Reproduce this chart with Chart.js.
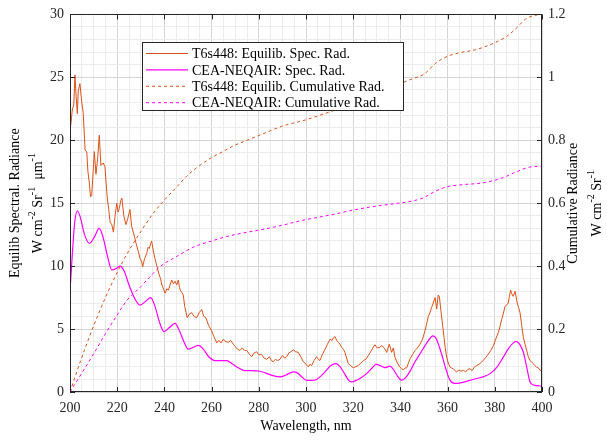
<!DOCTYPE html>
<html>
<head>
<meta charset="utf-8">
<script src="https://cdn.jsdelivr.net/npm/chart.js@4.4.1/dist/chart.umd.min.js"></script>
<style>
  body { margin: 0; background: #fff; }
  #wrap { width: 607px; height: 440px; }
</style>
</head>
<body>
<div id="wrap"><canvas id="radChart" width="607" height="440"></canvas></div>
<script>
  // T6s448 equilibrium spectral radiance (noisy)
  var t6Wave = [200, 200.5, 201, 201.6, 202.1, 202.6, 203.1, 203.5, 204.2, 205, 205.6, 206.4, 207.1, 207.6, 208.2, 208.7, 209.2, 209.8, 210.3, 211, 211.7, 212.4, 213.1, 214.1, 214.8, 215.3, 215.8, 216.4, 217, 217.7, 218.4, 219.1, 219.8, 220.4, 220.9, 221.5, 222, 222.8, 223.7, 224.5, 225.4, 226.1, 226.8, 227.4, 228, 228.9, 229.7, 230.3, 230.8, 231.6, 232.5, 233.1, 233.6, 234.2, 234.6, 235.3, 236, 236.8, 237.8, 238.4, 238.9, 239.6, 240.3, 241, 241.7, 242.4, 243.1, 243.8, 244.5, 245.2, 245.9, 246.4, 246.9, 247.5, 248, 248.6, 249.2, 249.7, 250.6, 251.6, 252.6, 253.7, 254.7, 255.8, 256.7, 257.6, 258.5, 259.3, 260, 261, 262.2, 263.1, 264, 265, 266, 267.1, 268.1, 269.2, 270.1, 271, 272, 273, 274, 274.9, 276, 277, 278, 279.1, 280, 281, 282.2, 283.3, 284.5, 285.3, 286.1, 287, 288, 289, 290, 290.9, 291.8, 292.7, 293.6, 294.6, 295.6, 296.7, 297.8, 298.9, 300, 301, 301.7, 302.4, 303.4, 304.5, 305.2, 305.9, 307, 308.1, 309.1, 310.2, 311, 311.6, 312.3, 313, 313.7, 314.4, 315.1, 315.8, 316.5, 317.2, 317.9, 318.9, 320, 321, 322.2, 323.2, 324.3, 325.4, 326.4, 327.4, 328.5, 329.2, 330.2, 331.4, 332.1, 332.8, 333.5, 334.2, 335.3, 336.3, 337, 337.7, 338.7, 339.8, 340.5, 341.2, 342, 342.7, 343.4, 344.1, 345.2, 346.2, 347.2, 348.3, 349.4, 350.4, 351.1, 351.8, 352.5, 353.2, 353.9, 354.7, 355.4, 356, 356.5, 357.2, 357.9, 358.5, 359, 359.6, 360.3, 361, 361.7, 362.4, 363.1, 363.8, 364.8, 365.7, 366.7, 367.7, 368.6, 369.5, 370.4, 371.4, 372.3, 373.3, 374.2, 375.1, 376.2, 377.2, 378.3, 379.4, 380.4, 381.5, 382.2, 382.9, 383.6, 384.3, 385, 385.7, 386.2, 386.7, 387.2, 387.8, 388.6, 389.5, 390.1, 390.7, 391.4, 392.1, 392.8, 393.5, 394.2, 394.9, 395.6, 396.3, 397, 397.7, 398.5, 399.2, 400];
  var t6Spec = [20.7, 21.5, 22.5, 22.8, 25.2, 23.5, 22.1, 23.9, 24.5, 23.0, 22.2, 19.2, 19.1, 17.5, 16.6, 15.5, 15.6, 17.5, 19.1, 17.3, 18.5, 20.4, 18.0, 18.2, 17.9, 16.6, 15.4, 14.5, 13.5, 13.3, 12.7, 14.0, 15.0, 14.3, 14.6, 15.2, 15.4, 14.0, 13.3, 13.8, 14.5, 13.2, 12.7, 12.3, 11.8, 11.2, 10.6, 10.4, 9.95, 10.6, 11.0, 11.5, 11.4, 11.8, 12.0, 11.2, 10.6, 10.0, 9.3, 9.0, 8.5, 8.2, 7.85, 8.2, 8.1, 8.5, 8.9, 8.6, 8.8, 8.5, 8.9, 8.3, 8.0, 7.9, 7.7, 6.8, 6.3, 5.9, 6.2, 6.3, 6.0, 5.9, 6.3, 6.55, 6.0, 5.9, 5.4, 5.1, 4.85, 4.4, 3.9, 4.1, 3.9, 4.2, 4.0, 3.95, 4.1, 3.8, 3.6, 3.4, 3.3, 3.5, 3.3, 3.3, 3.0, 2.8, 3.1, 3.2, 2.95, 3.0, 2.7, 2.6, 2.8, 2.5, 2.4, 2.6, 2.5, 2.6, 2.9, 2.7, 2.8, 3.1, 3.2, 3.35, 3.2, 3.15, 2.8, 2.4, 2.2, 2.0, 2.2, 2.1, 2.5, 2.8, 2.6, 2.5, 3.0, 3.4, 3.8, 4.2, 4.1, 4.3, 4.4, 4.1, 3.95, 3.8, 3.55, 3.4, 3.15, 2.7, 2.25, 2.1, 1.93, 2.0, 2.1, 2.3, 2.5, 2.6, 2.9, 3.2, 3.55, 3.75, 3.5, 3.55, 3.7, 3.55, 3.4, 3.15, 3.8, 3.15, 3.5, 2.77, 2.3, 1.98, 1.85, 1.77, 1.9, 1.93, 2.3, 2.64, 3.0, 3.3, 3.5, 3.8, 4.2, 4.85, 5.4, 6.0, 6.3, 6.7, 7.07, 7.5, 6.6, 7.7, 7.6, 6.4, 5.3, 4.33, 3.5, 2.77, 2.3, 1.98, 1.9, 1.85, 1.7, 1.59, 1.75, 1.65, 1.72, 1.6, 1.8, 1.85, 1.7, 2.0, 2.1, 2.2, 2.35, 2.5, 2.75, 3.0, 3.3, 3.68, 4.2, 4.72, 5.2, 5.77, 6.2, 6.8, 6.9, 7.07, 7.6, 8.1, 7.8, 7.6, 8.0, 7.07, 6.7, 6.3, 5.3, 4.33, 3.8, 3.3, 2.8, 2.5, 2.4, 2.25, 2.1, 1.98, 1.9, 1.72, 1.8];

  // CEA-NEQAIR spectral radiance (smooth)
  var ceaWave = [200, 201, 202, 203.1, 204.5, 206, 208.2, 210.3, 212.4, 214, 216, 217.7, 219.5, 221.2, 223, 225, 227.5, 229.7, 232, 234.2, 236, 238, 239.8, 242, 244.5, 246.5, 248.5, 250.1, 252.3, 254.4, 256.5, 258.8, 261.4, 264, 266.4, 269, 271.5, 274, 277, 280.5, 283, 286, 289, 291.5, 294.6, 296.5, 298.5, 300.5, 302.5, 304.5, 306.5, 308.5, 310.5, 312.7, 314.5, 316.5, 318, 319.4, 321, 323, 325.7, 327.7, 329.7, 331.5, 333.5, 335.6, 337, 338.5, 340.5, 342.5, 344.5, 346.2, 348.5, 350.5, 352.5, 353.7, 355, 356.3, 357.5, 359, 361, 363.1, 366, 369, 372.3, 375, 378, 381, 383.6, 386, 389, 390.5, 392.1, 393.5, 394.9, 396.5, 398, 400];
  var ceaSpec = [8.0, 11.0, 13.5, 14.4, 13.8, 12.6, 11.8, 12.3, 13.0, 12.3, 10.7, 9.7, 9.8, 10.0, 9.6, 8.5, 7.4, 6.9, 7.2, 7.5, 6.8, 5.5, 4.8, 5.1, 5.45, 4.8, 3.9, 3.4, 3.55, 3.7, 3.4, 2.8, 2.5, 2.5, 2.5, 2.2, 1.9, 1.7, 1.7, 1.65, 1.5, 1.3, 1.2, 1.35, 1.6, 1.5, 1.15, 0.92, 0.92, 1.0, 1.3, 1.7, 2.1, 2.25, 2.0, 1.4, 0.95, 0.81, 0.9, 1.1, 1.46, 1.85, 2.19, 2.1, 1.93, 2.06, 1.8, 1.35, 0.94, 1.2, 1.8, 2.4, 3.1, 3.7, 4.25, 4.46, 4.3, 3.7, 3.0, 2.0, 0.94, 0.68, 0.75, 0.9, 1.07, 1.2, 1.46, 2.0, 2.77, 3.5, 4.02, 3.8, 3.16, 2.0, 0.81, 0.55, 0.5, 0.47];

  // cumulative radiance (right axis)
  var t6CumWave = [200, 202, 205, 210, 215, 220, 225, 230, 235, 240, 245, 250, 255, 260, 265, 270, 275, 280, 290, 300, 310, 320, 330, 340, 345, 350, 355, 360, 365, 372, 380, 385, 389, 393, 397, 400];
  var t6Cum = [0, 0.045, 0.11, 0.21, 0.30, 0.38, 0.45, 0.51, 0.565, 0.61, 0.65, 0.69, 0.72, 0.745, 0.765, 0.785, 0.80, 0.815, 0.845, 0.865, 0.89, 0.915, 0.945, 0.98, 0.995, 1.01, 1.045, 1.067, 1.078, 1.088, 1.11, 1.13, 1.155, 1.185, 1.197, 1.2];
  var ceaCumWave = [200, 205, 210, 215, 220, 224, 230, 235, 238.1, 245, 252.2, 260, 266.4, 273, 280.5, 290, 297.5, 305, 312, 318.6, 325, 332, 339.1, 345, 349.7, 354, 359.6, 365, 375.1, 383, 389.3, 394.9, 400];
  var ceaCum = [0, 0.06, 0.121, 0.185, 0.245, 0.29, 0.335, 0.375, 0.398, 0.43, 0.46, 0.48, 0.494, 0.505, 0.515, 0.53, 0.544, 0.555, 0.565, 0.576, 0.585, 0.593, 0.60, 0.607, 0.617, 0.635, 0.652, 0.658, 0.665, 0.68, 0.70, 0.715, 0.717];

  var seriesLabels = ['T6s448: Equilib. Spec. Rad.', 'CEA-NEQAIR: Spec. Rad.', 'T6s448: Equilib. Cumulative Rad.', 'CEA-NEQAIR: Cumulative Rad.'];

  var FONT = "'Liberation Serif', 'Times New Roman', serif";
  var AXIS_COLOR = '#262626';

  function toPoints(xs, ys) {
    return xs.map(function (x, i) { return { x: x, y: ys[i] }; });
  }

  // draws a rotated (bottom-to-top) label with superscript parts
  function drawRotLabel(ctx, cx, cy, parts, size) {
    ctx.save();
    ctx.translate(cx, cy);
    ctx.rotate(-Math.PI / 2);
    ctx.fillStyle = '#000';
    ctx.textBaseline = 'middle';
    ctx.textAlign = 'left';
    var total = 0;
    parts.forEach(function (p) {
      ctx.font = (p.sup ? Math.round(size * 0.72) : size) + 'px ' + FONT;
      p.w = ctx.measureText(p.t).width;
      total += p.w;
    });
    var x = -total / 2;
    parts.forEach(function (p) {
      ctx.font = (p.sup ? Math.round(size * 0.72) : size) + 'px ' + FONT;
      ctx.fillText(p.t, x, p.sup ? -size * 0.42 : 0);
      x += p.w;
    });
    ctx.restore();
  }

  var framePlugin = {
    id: 'frame',
    afterDraw: function (chart) {
      var ctx = chart.ctx;
      var a = chart.chartArea;
      var xs = chart.scales.x, ys = chart.scales.y;
      ctx.save();
      ctx.strokeStyle = AXIS_COLOR;
      ctx.lineWidth = 1;
      ctx.setLineDash([]);
      ctx.strokeRect(Math.round(a.left) + 0.5, Math.round(a.top) + 0.5, Math.round(a.right - a.left) - 1, Math.round(a.bottom - a.top) - 1);
      ctx.beginPath();
      for (var w = 200; w <= 400; w += 20) {
        var px = Math.round(xs.getPixelForValue(w)) + 0.5;
        ctx.moveTo(px, a.bottom); ctx.lineTo(px, a.bottom - 5);
        ctx.moveTo(px, a.top); ctx.lineTo(px, a.top + 5);
      }
      for (var v = 0; v <= 30; v += 5) {
        var py = Math.round(ys.getPixelForValue(v)) + 0.5;
        ctx.moveTo(a.left, py); ctx.lineTo(a.left + 5, py);
        ctx.moveTo(a.right, py); ctx.lineTo(a.right - 5, py);
      }
      ctx.stroke();

      // legend box inside the plot
      var lx = 142, ly = 42, lw = 261, lh = 68;
      ctx.fillStyle = '#fff';
      ctx.fillRect(lx, ly, lw, lh);
      ctx.strokeRect(lx + 0.5, ly + 0.5, lw, lh);
      chart.data.datasets.forEach(function (ds, i) {
        var rowY = 53.5 + i * 16.4;
        ctx.beginPath();
        ctx.strokeStyle = ds.borderColor;
        ctx.lineWidth = ds.borderWidth;
        ctx.setLineDash(ds.borderDash || []);
        ctx.moveTo(146, rowY); ctx.lineTo(188, rowY);
        ctx.stroke();
        ctx.setLineDash([]);
        ctx.fillStyle = '#000';
        ctx.font = '14px ' + FONT;
        ctx.textBaseline = 'middle';
        ctx.textAlign = 'left';
        ctx.fillText(ds.label, 192, rowY + 1);
      });
      ctx.strokeStyle = AXIS_COLOR;

      // axis titles with superscripts
      var midY = (a.top + a.bottom) / 2;
      drawRotLabel(ctx, 15, midY, [{ t: 'Equilib Spectral. Radiance' }], 14);
      drawRotLabel(ctx, 38, midY, [{ t: 'W cm' }, { t: '-2', sup: true }, { t: ' Sr' }, { t: '-1', sup: true }, { t: '  μm' }, { t: '-1', sup: true }], 14);
      drawRotLabel(ctx, 573, midY, [{ t: 'Cumulative Radiance' }], 14);
      drawRotLabel(ctx, 597, midY, [{ t: 'W cm' }, { t: '-2', sup: true }, { t: ' Sr' }, { t: '-1', sup: true }], 14);
      ctx.restore();
    }
  };

  var ctx = document.getElementById('radChart').getContext('2d');

  var radChart = new Chart(ctx, {
    type: 'line',
    data: {
      datasets: [{
        label: seriesLabels[0],
        data: toPoints(t6Wave, t6Spec),
        borderColor: '#D95319',
        borderWidth: 1,
        yAxisID: 'y'
      }, {
        label: seriesLabels[1],
        data: toPoints(ceaWave, ceaSpec),
        borderColor: '#FF00FF',
        borderWidth: 1.2,
        cubicInterpolationMode: 'monotone',
        yAxisID: 'y'
      }, {
        label: seriesLabels[2],
        data: toPoints(t6CumWave, t6Cum),
        borderColor: '#D95319',
        borderWidth: 1,
        borderDash: [3, 3],
        cubicInterpolationMode: 'monotone',
        yAxisID: 'y1'
      }, {
        label: seriesLabels[3],
        data: toPoints(ceaCumWave, ceaCum),
        borderColor: '#FF00FF',
        borderWidth: 1,
        borderDash: [3, 3],
        cubicInterpolationMode: 'monotone',
        yAxisID: 'y1'
      }]
    },
    options: {
      responsive: false,
      animation: false,
      layout: { padding: { top: 9, left: 0, right: 0, bottom: 0 } },
      elements: { point: { radius: 0 }, line: { tension: 0 } },
      plugins: {
        legend: { display: false },
        tooltip: { enabled: false }
      },
      scales: {
        x: {
          type: 'linear',
          min: 200,
          max: 400,
          afterFit: function (scale) { scale.height = 48; },
          border: { display: false },
          grid: {
            drawTicks: false,
            color: function (c) { return c.tick && c.tick.value % 20 === 0 ? '#d4d4d4' : '#ececec'; }
          },
          ticks: {
            stepSize: 5,
            autoSkip: false,
            maxRotation: 0,
            padding: 8,
            color: AXIS_COLOR,
            font: { family: FONT, size: 14 },
            callback: function (v) { return v % 20 === 0 ? v : ''; }
          },
          title: {
            display: true,
            text: 'Wavelength, nm',
            color: '#000',
            font: { family: FONT, size: 14 },
            padding: { top: 0, bottom: 5 }
          }
        },
        y: {
          position: 'left',
          min: 0,
          max: 30,
          afterFit: function (scale) { scale.width = 70; },
          border: { display: false },
          grid: {
            drawTicks: false,
            color: function (c) { return c.tick && c.tick.value % 5 === 0 ? '#d4d4d4' : '#ececec'; }
          },
          ticks: {
            stepSize: 1,
            autoSkip: false,
            padding: 6,
            color: AXIS_COLOR,
            font: { family: FONT, size: 14 },
            callback: function (v) { return v % 5 === 0 ? v : ''; }
          }
        },
        y1: {
          position: 'right',
          min: 0,
          max: 1.2,
          afterFit: function (scale) { scale.width = 65; },
          border: { display: false },
          grid: { drawOnChartArea: false, drawTicks: false },
          ticks: {
            stepSize: 0.2,
            autoSkip: false,
            padding: 6,
            color: AXIS_COLOR,
            font: { family: FONT, size: 14 },
            callback: function (v) { return String(Math.round(v * 10) / 10); }
          }
        }
      }
    },
    plugins: [framePlugin]
  });
</script>
</body>
</html>
